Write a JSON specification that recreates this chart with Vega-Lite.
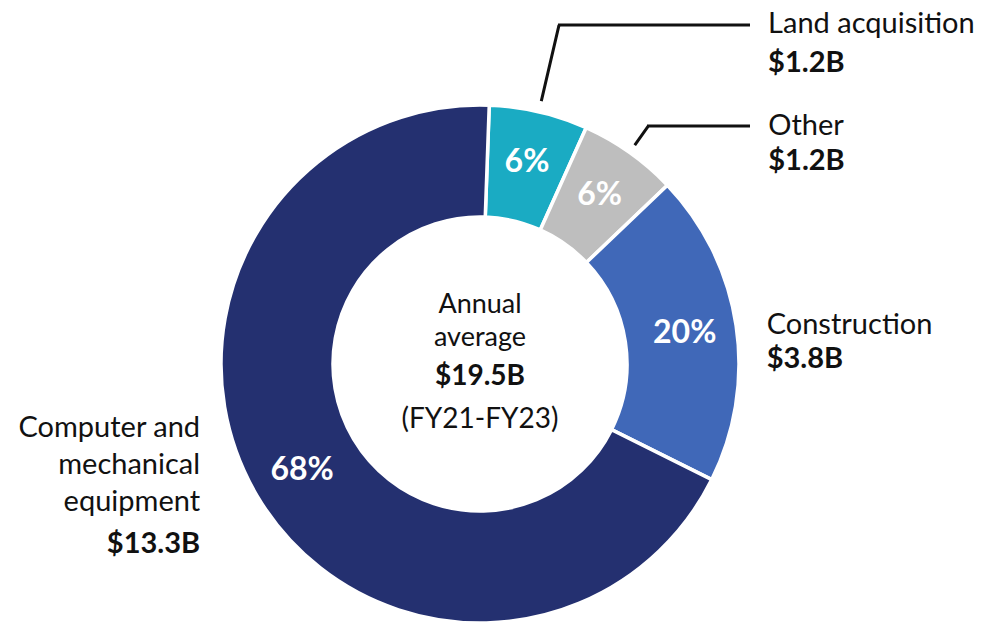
{
  "$schema": "https://vega.github.io/schema/vega-lite/v6.json",
  "width": 960,
  "height": 516,
  "autosize": {"type": "none"},
  "padding": {"left": 0, "top": 106, "right": 24, "bottom": 0},
  "background": "white",
  "config": {"view": {"stroke": null}, "font": "Lato", "text": {"font": "Lato"}},
  "data": {
    "values": [
      {"name": "Land acquisition", "value": 1.2, "pct": "6%", "amount": "$1.2B", "order": 1},
      {"name": "Other", "value": 1.2, "pct": "6%", "amount": "$1.2B", "order": 2},
      {"name": "Construction", "value": 3.8, "pct": "20%", "amount": "$3.8B", "order": 3},
      {"name": "Computer and mechanical equipment", "value": 13.3, "pct": "68%", "amount": "$13.3B", "order": 4}
    ]
  },
  "layer": [
    {
      "mark": {"type": "arc", "outerRadius": 259, "innerRadius": 147, "stroke": "white", "strokeWidth": 3.5},
      "encoding": {
        "theta": {"field": "value", "type": "quantitative", "stack": true, "scale": {"range": [0.0357, 6.3189]}},
        "order": {"field": "order", "type": "quantitative"},
        "color": {
          "field": "name", "type": "nominal", "legend": null,
          "scale": {
            "domain": ["Land acquisition", "Other", "Construction", "Computer and mechanical equipment"],
            "range": ["#1AABC3", "#BEBEBE", "#4068B8", "#243070"]
          }
        }
      }
    },
    {
      "mark": {"type": "text", "radius": 207, "fontSize": 32, "fontWeight": "bold", "color": "white", "align": "center", "baseline": "middle"},
      "encoding": {
        "theta": {"field": "value", "type": "quantitative", "stack": true},
        "order": {"field": "order", "type": "quantitative"},
        "text": {"field": "pct"}
      }
    },
    {
      "mark": {"type": "arc", "innerRadius": 270, "outerRadius": 348, "padAngle": 1, "filled": false, "strokeWidth": 3},
      "encoding": {
        "theta": {"field": "value", "type": "quantitative", "stack": true},
        "order": {"field": "order", "type": "quantitative"},
        "stroke": {"condition": {"test": "datum.name === 'Land acquisition'", "value": "#111111"}, "value": "transparent"}
      }
    },
    {
      "mark": {"type": "arc", "innerRadius": 268, "outerRadius": 291, "padAngle": 1, "filled": false, "strokeWidth": 3},
      "encoding": {
        "theta": {"field": "value", "type": "quantitative", "stack": true},
        "order": {"field": "order", "type": "quantitative"},
        "stroke": {"condition": {"test": "datum.name === 'Other'", "value": "#111111"}, "value": "transparent"}
      }
    },
    {
      "transform": [{"filter": "datum.name === 'Land acquisition'"}],
      "mark": {"type": "arc", "theta": 1.5708, "theta2": 1.5708, "innerRadius": 78, "outerRadius": 270, "yOffset": -339, "filled": false, "stroke": "#111111", "strokeWidth": 3},
      "encoding": {}
    },
    {
      "transform": [{"filter": "datum.name === 'Other'"}],
      "mark": {"type": "arc", "theta": 1.5708, "theta2": 1.5708, "innerRadius": 167, "outerRadius": 270, "yOffset": -238, "filled": false, "stroke": "#111111", "strokeWidth": 3},
      "encoding": {}
    },
    {
      "mark": {"type": "text", "radius": 300, "dx": 220, "dy": -39, "align": "left", "baseline": "alphabetic", "fontSize": 29, "color": "#111111"},
      "encoding": {
        "theta": {"field": "value", "type": "quantitative", "stack": true},
        "order": {"field": "order", "type": "quantitative"},
        "text": {"condition": {"test": "datum.name === 'Land acquisition'", "field": "name"}, "value": ""}
      }
    },
    {
      "mark": {"type": "text", "radius": 300, "dx": 220, "dy": 0, "align": "left", "baseline": "alphabetic", "fontSize": 29, "fontWeight": "bold", "color": "#111111"},
      "encoding": {
        "theta": {"field": "value", "type": "quantitative", "stack": true},
        "order": {"field": "order", "type": "quantitative"},
        "text": {"condition": {"test": "datum.name === 'Land acquisition'", "field": "amount"}, "value": ""}
      }
    },
    {
      "mark": {"type": "text", "radius": 300, "dx": 115, "dy": 16, "align": "left", "baseline": "alphabetic", "fontSize": 29, "color": "#111111"},
      "encoding": {
        "theta": {"field": "value", "type": "quantitative", "stack": true},
        "order": {"field": "order", "type": "quantitative"},
        "text": {"condition": {"test": "datum.name === 'Other'", "field": "name"}, "value": ""}
      }
    },
    {
      "mark": {"type": "text", "radius": 300, "dx": 115, "dy": 51, "align": "left", "baseline": "alphabetic", "fontSize": 29, "fontWeight": "bold", "color": "#111111"},
      "encoding": {
        "theta": {"field": "value", "type": "quantitative", "stack": true},
        "order": {"field": "order", "type": "quantitative"},
        "text": {"condition": {"test": "datum.name === 'Other'", "field": "amount"}, "value": ""}
      }
    },
    {
      "mark": {"type": "text", "radius": 300, "dx": -10, "dy": 15, "align": "left", "baseline": "alphabetic", "fontSize": 29, "color": "#111111"},
      "encoding": {
        "theta": {"field": "value", "type": "quantitative", "stack": true},
        "order": {"field": "order", "type": "quantitative"},
        "text": {"condition": {"test": "datum.name === 'Construction'", "field": "name"}, "value": ""}
      }
    },
    {
      "mark": {"type": "text", "radius": 300, "dx": -10, "dy": 49, "align": "left", "baseline": "alphabetic", "fontSize": 29, "fontWeight": "bold", "color": "#111111"},
      "encoding": {
        "theta": {"field": "value", "type": "quantitative", "stack": true},
        "order": {"field": "order", "type": "quantitative"},
        "text": {"condition": {"test": "datum.name === 'Construction'", "field": "amount"}, "value": ""}
      }
    },
    {
      "mark": {"type": "text", "radius": 300, "dx": -22, "dy": -80, "align": "right", "baseline": "alphabetic", "fontSize": 29, "lineHeight": 37, "color": "#111111"},
      "encoding": {
        "theta": {"field": "value", "type": "quantitative", "stack": true},
        "order": {"field": "order", "type": "quantitative"},
        "text": {"condition": {"test": "datum.name === 'Computer and mechanical equipment'", "value": ["Computer and", "mechanical", "equipment"]}, "value": ""}
      }
    },
    {
      "mark": {"type": "text", "radius": 300, "dx": -22, "dy": 36, "align": "right", "baseline": "alphabetic", "fontSize": 29, "fontWeight": "bold", "color": "#111111"},
      "encoding": {
        "theta": {"field": "value", "type": "quantitative", "stack": true},
        "order": {"field": "order", "type": "quantitative"},
        "text": {"condition": {"test": "datum.name === 'Computer and mechanical equipment'", "field": "amount"}, "value": ""}
      }
    },
    {
      "transform": [{"aggregate": [{"op": "sum", "field": "value", "as": "total"}]}],
      "mark": {"type": "text", "text": "Annual", "dy": -51, "align": "center", "baseline": "alphabetic", "fontSize": 27, "color": "#111111"},
      "encoding": {}
    },
    {
      "transform": [{"aggregate": [{"op": "sum", "field": "value", "as": "total"}]}],
      "mark": {"type": "text", "text": "average", "dy": -18, "align": "center", "baseline": "alphabetic", "fontSize": 27, "color": "#111111"},
      "encoding": {}
    },
    {
      "transform": [
        {"aggregate": [{"op": "sum", "field": "value", "as": "total"}]},
        {"calculate": "'$' + format(datum.total, '.1f') + 'B'", "as": "totalLabel"}
      ],
      "mark": {"type": "text", "dy": 21, "align": "center", "baseline": "alphabetic", "fontSize": 28, "fontWeight": "bold", "color": "#111111"},
      "encoding": {"text": {"field": "totalLabel"}}
    },
    {
      "transform": [{"aggregate": [{"op": "sum", "field": "value", "as": "total"}]}],
      "mark": {"type": "text", "text": "(FY21-FY23)", "dy": 64, "align": "center", "baseline": "alphabetic", "fontSize": 28, "color": "#111111"},
      "encoding": {}
    }
  ]
}
